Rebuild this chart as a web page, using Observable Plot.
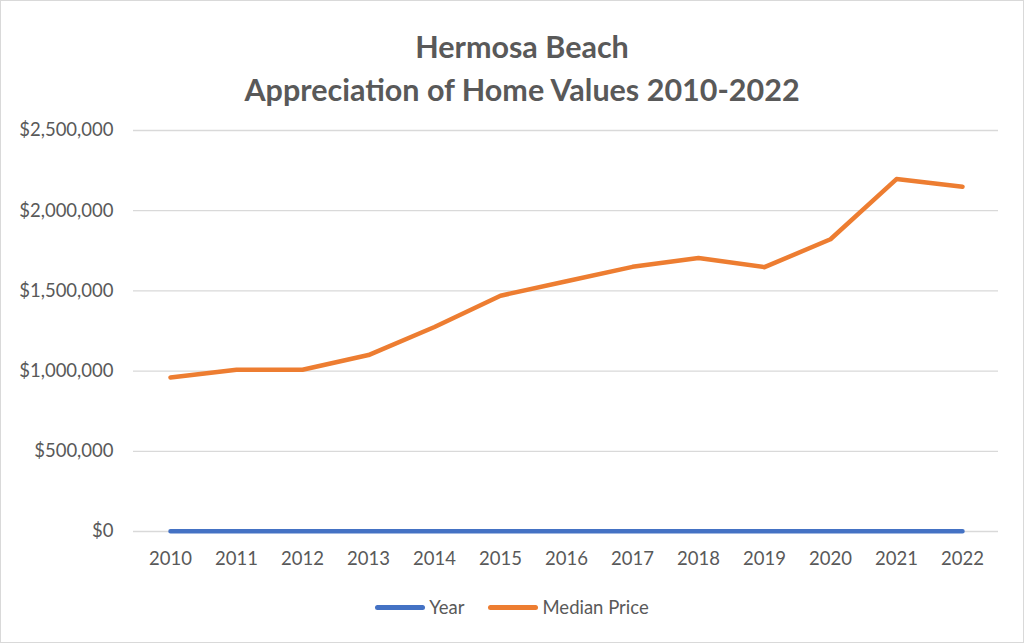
<!DOCTYPE html>
<html>
<head>
<meta charset="utf-8">
<script src="https://cdn.jsdelivr.net/npm/d3@7"></script>
<script src="https://cdn.jsdelivr.net/npm/@observablehq/plot@0.6"></script>
<style>
  html, body { margin: 0; padding: 0; background: #fff; }
  #wrap { position: relative; width: 1024px; height: 643px; overflow: hidden; font-family: Lato, "Open Sans", sans-serif; }
  #frame { position: absolute; left: 0; top: 0; width: 1022px; height: 641px; border: 1px solid #d9d9d9; pointer-events: none; }
  #title { height: 115px; box-sizing: border-box; padding-top: 25px; padding-left: 20px; text-align: center; color: #595959; font-weight: bold; font-size: 30.5px; line-height: 43px; }
  #legend { height: 52px; display: flex; justify-content: center; align-items: center; color: #595959; font-size: 18.5px; }
  .item { display: flex; align-items: center; margin: 0 12px; }
  .sw { width: 50px; height: 5px; border-radius: 3px; margin-right: 4px; }
  svg { display: block; }
</style>
</head>
<body>
<div id="wrap">
  <div id="title"><div>Hermosa Beach</div><div>Appreciation of Home Values 2010-2022</div></div>
  <div id="chart"></div>
  <div id="legend"></div>
  <div id="frame"></div>
</div>
<script>
const years = ["2010","2011","2012","2013","2014","2015","2016","2017","2018","2019","2020","2021","2022"];
const yearSeries = [2010,2011,2012,2013,2014,2015,2016,2017,2018,2019,2020,2021,2022];
const medianPrice = [960000,1008000,1008000,1100000,1275000,1470000,1560000,1650000,1705000,1648000,1822000,2197000,2150000];
const yTicks = [0,500000,1000000,1500000,2000000,2500000];
const seriesNames = ["Year","Median Price"];
const seriesColors = ["#4472C4","#ED7D31"];

const rows = [];
years.forEach((y, i) => {
  rows.push({year: y, value: yearSeries[i], series: seriesNames[0]});
});
years.forEach((y, i) => {
  rows.push({year: y, value: medianPrice[i], series: seriesNames[1]});
});

const chart = Plot.plot({
  width: 1024,
  height: 466,
  marginTop: 15,
  marginBottom: 50,
  marginLeft: 133,
  marginRight: 26,
  style: {fontFamily: "Lato, 'Open Sans', sans-serif", fontSize: "18.5px", color: "#595959", background: "transparent"},
  x: {type: "point", domain: years, padding: 0.5, label: null},
  y: {domain: [0, 2500000], label: null},
  color: {domain: seriesNames, range: seriesColors},
  marks: [
    Plot.gridY(yTicks, {stroke: "#d9d9d9", strokeOpacity: 1, strokeWidth: 1.3}),
    Plot.axisY(yTicks, {tickSize: 0, tickPadding: 20, tickFormat: d3.format("$,"), fill: "#595959", fontSize: 18.5, label: null}),
    Plot.axisX(years, {tickSize: 0, tickPadding: 20, fill: "#595959", fontSize: 18.5, label: null}),
    Plot.line(rows, {x: "year", y: "value", z: "series", stroke: "series", strokeWidth: 4.5, strokeLinecap: "round", strokeLinejoin: "round"})
  ]
});
document.getElementById("chart").appendChild(chart);

const legend = document.getElementById("legend");
seriesNames.forEach((n, i) => {
  const it = document.createElement("div");
  it.className = "item";
  const sw = document.createElement("div");
  sw.className = "sw";
  sw.style.background = seriesColors[i];
  const t = document.createElement("span");
  t.textContent = n;
  it.appendChild(sw); it.appendChild(t);
  legend.appendChild(it);
});
</script>
</body>
</html>
